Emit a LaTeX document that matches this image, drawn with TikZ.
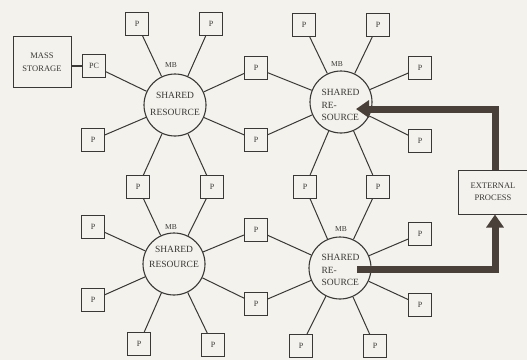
\documentclass[tikz,border=0pt]{standalone}
\usepackage{fontspec}
\setmainfont{Liberation Serif}
\usetikzlibrary{arrows.meta}
\definecolor{bg}{HTML}{F4F2EC}
\definecolor{ink}{HTML}{3A3836}
\definecolor{arr}{HTML}{4A403A}
\begin{document}
\begin{tikzpicture}[x=1pt,y=-1pt,
  every node/.style={text=ink,font=\fontsize{9}{11}\selectfont},
  pbox/.style={draw=ink,line width=1pt,minimum width=23pt,minimum height=23pt,inner sep=0pt,font=\fontsize{8}{9}\selectfont},
  res/.style={draw=ink,line width=1.1pt,circle,minimum size=62pt,inner sep=0pt,align=center},
  link/.style={draw=ink,line width=1pt},
  small/.style={font=\fontsize{7.5}{9}\selectfont},
  bigarrow/.style={draw=arr,line width=7pt,-{Triangle[length=13pt,width=17pt]}}]
\fill[bg] (0,0) rectangle (527,360);
\useasboundingbox (0,0) rectangle (527,360);
% resources
\node[res] (tl) at (175,105) {};
\node[res] (tr) at (341,102) {};
\node[res] (bl) at (174,264) {};
\node[res] (br) at (340,268) {};
\node[font=\fontsize{9.5}{17}\selectfont,align=center] (tlt) at (175,104) {SHARED\\RESOURCE};
\node[font=\fontsize{9.5}{15}\selectfont,align=center] (blt) at (174,257) {SHARED\\RESOURCE};
\node[font=\fontsize{9.5}{12.5}\selectfont,align=left,anchor=west] (trt) at (318,105) {SHARED\\RE-\\SOURCE};
\node[font=\fontsize{9.5}{12.5}\selectfont,align=left,anchor=west] (brt) at (318,270) {SHARED\\RE-\\SOURCE};
\node[small] (mb1) at (171,65) {MB};
\node[small] (mb2) at (337,64) {MB};
\node[small] (mb3) at (171,227) {MB};
\node[small] (mb4) at (341,229) {MB};
% mass storage
\node[draw=ink,line width=1pt,minimum width=58pt,minimum height=51pt,align=center,font=\fontsize{8.5}{13}\selectfont] (ms) at (42,62) {MASS\\STORAGE};
\node[pbox] (pc) at (94,66) {PC};
\draw[ink,line width=2pt] (ms.east |- pc.west) -- (pc.west);
% P boxes
\node[pbox] (p1) at (137,24) {P};
\node[pbox] (p2) at (211,24) {P};
\node[pbox] (p3) at (256,68) {P};
\node[pbox] (p4) at (93,140) {P};
\node[pbox] (p5) at (256,140) {P};
\node[pbox] (p6) at (138,187) {P};
\node[pbox] (p7) at (212,187) {P};
\node[pbox] (p8) at (304,25) {P};
\node[pbox] (p9) at (378,25) {P};
\node[pbox] (p10) at (420,68) {P};
\node[pbox] (p11) at (420,141) {P};
\node[pbox] (p12) at (305,187) {P};
\node[pbox] (p13) at (378,187) {P};
\node[pbox] (p14) at (93,227) {P};
\node[pbox] (p15) at (93,300) {P};
\node[pbox] (p16) at (256,230) {P};
\node[pbox] (p17) at (256,304) {P};
\node[pbox] (p18) at (139,344) {P};
\node[pbox] (p19) at (213,345) {P};
\node[pbox] (p20) at (420,234) {P};
\node[pbox] (p21) at (420,305) {P};
\node[pbox] (p22) at (301,346) {P};
\node[pbox] (p23) at (375,346) {P};
% links
\foreach \p in {p1,p2,p3,p4,p5,p6,p7,pc} \draw[link] (tl) -- (\p);
\foreach \p in {p8,p9,p10,p11,p12,p13,p3,p5} \draw[link] (tr) -- (\p);
\foreach \p in {p6,p7,p14,p15,p16,p17,p18,p19} \draw[link] (bl) -- (\p);
\foreach \p in {p12,p13,p16,p17,p20,p21,p22,p23} \draw[link] (br) -- (\p);
% external process
\node[draw=ink,line width=1pt,minimum width=70pt,minimum height=44pt,align=center,font=\fontsize{8.5}{12}\selectfont] (ext) at (493,192) {EXTERNAL\\PROCESS};
\coordinate (a1) at (356,109);
\coordinate (a2) at (357,269);
\draw[bigarrow] (ext.north -| 495,0) |- (a1);
\draw[bigarrow] (a2) -| (ext.south -| 495,0);
\end{tikzpicture}
\end{document}
